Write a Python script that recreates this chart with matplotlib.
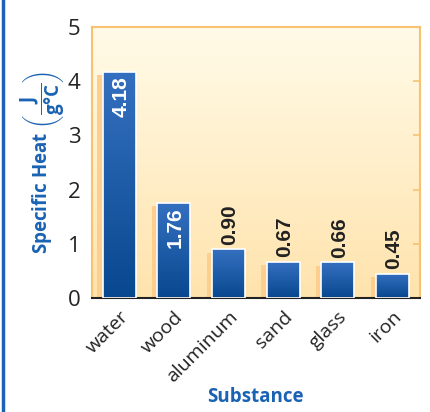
import numpy as np
import matplotlib
matplotlib.use("Agg")
import matplotlib.pyplot as plt
from matplotlib.colors import LinearSegmentedColormap
from matplotlib.lines import Line2D

substances = ["water", "wood", "aluminum", "sand", "glass", "iron"]
specific_heat = [4.18, 1.76, 0.90, 0.67, 0.66, 0.45]
value_labels = ["4.18", "1.76", "0.90", "0.67", "0.66", "0.45"]

plt.rcParams['font.family'] = ['Open Sans', 'DejaVu Sans']
plt.rcParams['mathtext.fontset'] = 'custom'
plt.rcParams['mathtext.bf'] = 'Open Sans:bold'
plt.rcParams['mathtext.rm'] = 'Open Sans'

blue = "#1a62b3"
orange_edge = "#f8c271"

fig = plt.figure(figsize=(4.31, 4.12), dpi=100)
ax = fig.add_axes([0.213, 0.277, 0.761, 0.657])

# background gradient (light yellow top -> light orange bottom)
bg = LinearSegmentedColormap.from_list("bg", ["#ffe3ad", "#fffbe8"])
ax.imshow(np.linspace(0, 1, 256).reshape(-1, 1), cmap=bg, origin="lower",
          extent=(-0.5, 5.5, 0, 5), aspect="auto", zorder=0)

x = np.arange(len(substances))
width = 0.6

# shadows
ax.bar(x - 0.1, np.array(specific_heat) - 0.07, width=width, color="#fccf8e",
       zorder=1)

# bars with vertical blue gradient
bar_cmap = LinearSegmentedColormap.from_list("bars", ["#08488f", "#3570c0"])
bars = ax.bar(x, specific_heat, width=width, color="none", edgecolor="white",
              linewidth=1.2, zorder=3)
for b in bars:
    bx, by = b.get_x(), b.get_y()
    bw, bh = b.get_width(), b.get_height()
    im = ax.imshow(np.linspace(0, 1, 256).reshape(-1, 1), cmap=bar_cmap,
                   origin="lower", extent=(bx, bx + bw, 0, bh),
                   aspect="auto", zorder=2)
    im.set_clip_path(b)

# value labels
for xi, v, lab in zip(x, specific_heat, value_labels):
    if v > 1.5:
        ax.text(xi + 0.03, v - 0.08, lab, rotation=90, ha="center", va="top",
                color="white", fontsize=15, family="Liberation Sans",
                fontweight="bold", zorder=4)
    else:
        ax.text(xi + 0.03, v + 0.08, lab, rotation=90, ha="center", va="bottom",
                color="#222222", fontsize=15, family="Liberation Sans",
                fontweight="bold", zorder=4)

ax.set_xlim(-0.5, 5.5)
ax.set_ylim(0, 5)
ax.set_yticks([0, 1, 2, 3, 4, 5])
ax.set_xticks(x)
ax.set_xticklabels(substances, rotation=45, ha="right", rotation_mode="anchor",
                   fontsize=14, color="#222222")
ax.tick_params(axis="x", length=0, pad=7)
ax.tick_params(axis="y", length=0, pad=8, labelsize=16, labelcolor="#222222")

# small inward ticks on the right side
ax2 = ax.twinx()
ax2.set_ylim(0, 5)
ax2.set_yticks([1, 2, 3, 4])
ax2.tick_params(axis="y", direction="in", length=5, width=1.2,
                color=orange_edge, labelright=False)
for s in ax2.spines.values():
    s.set_visible(False)

for name in ["top", "left", "right"]:
    ax.spines[name].set_color(orange_edge)
    ax.spines[name].set_linewidth(1.5)
ax.spines["bottom"].set_color("#222222")
ax.spines["bottom"].set_linewidth(1.5)

ax.set_ylabel(r"Specific Heat $\left(\dfrac{\mathbf{J}}{\mathbf{g°C}}\right)$",
              color=blue, fontsize=13.5, fontweight="bold", labelpad=1)
ax.set_xlabel("Substance", color=blue, fontsize=13.5, fontweight="bold",
              labelpad=1)

fig.add_artist(Line2D([0.007, 0.007], [0, 1], color=blue, linewidth=2.5))

fig.savefig("out.png", dpi=100)
